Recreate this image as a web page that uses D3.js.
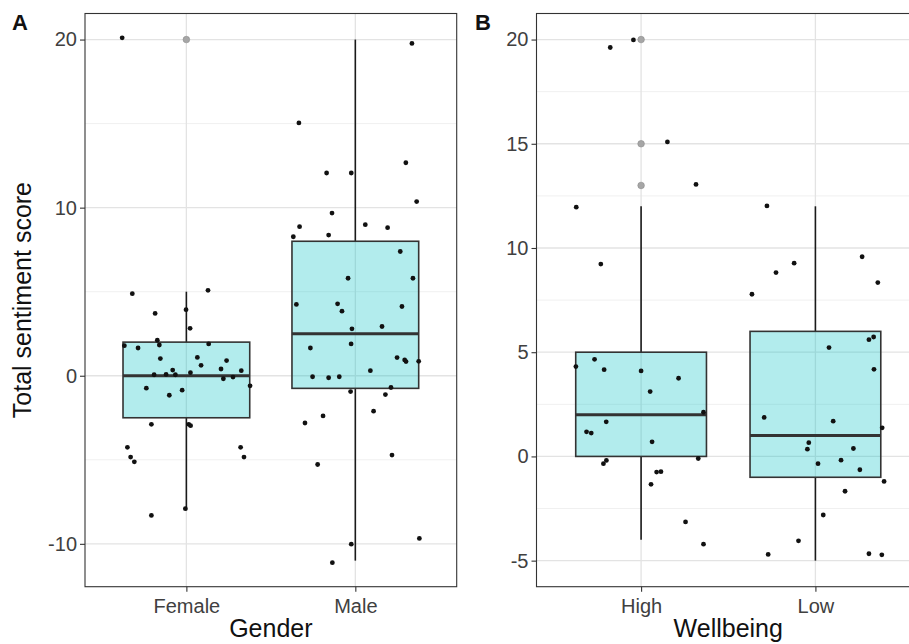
<!DOCTYPE html>
<html lang="en">
<head>
    <meta charset="UTF-8">
    <script src="https://cdn.jsdelivr.net/npm/d3@7"></script>
    <title>Sentiment boxplots</title>
    <style>
        body {
            margin: 0;
            overflow: hidden;
            background: white;
        }

        text {
            font-family: "Liberation Sans", Arial, sans-serif;
        }
    </style>
</head>
<body>
    <script>
        // panel A: gender
        const genderCats = ["Female", "Male"];
        const genderBoxes = [
            { lo: -8, q1: -2.5, med: 0, q3: 2, hi: 5 },
            { lo: -11, q1: -0.75, med: 2.5, q3: 8, hi: 20 }
        ];
        const genderOutliers = [[20], []];
        const genderTicks = [-10, 0, 10, 20];
        const genderMinor = [-5, 5, 15];

        const femaleScores = [20.1, 4.88, 3.71, 3.93, 5.08, 2.82, 1.79, 1.65, 2.11, 1.83, 1.89, 1.02, 1.09, 0.62, 0.9, 0.4, 0.3, 0.34, 0.06, 0.08, 0.06, 0.18, -0.18, -0.08, -0.74, -0.6, -0.86, -1.16, -2.89, -2.89, -2.97, -4.26, -4.26, -4.84, -4.84, -5.12, -8.31, -7.91];
        const femaleJitter = [-0.38, -0.32, -0.185, -0.002, 0.128, 0.022, -0.367, -0.286, -0.172, -0.16, 0.132, -0.154, 0.065, 0.087, 0.238, 0.205, 0.325, -0.081, -0.191, -0.12, -0.065, 0.024, 0.219, 0.276, -0.237, 0.377, -0.025, -0.101, -0.207, 0.014, 0.025, -0.349, 0.321, -0.33, 0.341, -0.308, -0.207, -0.006];

        const maleScores = [15.04, 12.06, 12.06, 12.67, 19.77, 10.36, 9.68, 8.87, 8.99, 8.81, 8.27, 8.37, 7.39, 5.8, 5.8, 4.24, 4.28, 3.84, 4.12, 2.93, 2.79, 1.65, 1.89, 1.08, 0.94, 0.84, 0.86, 0.3, -0.06, -0.12, -0.06, -0.94, -0.7, -1.12, -2.11, -2.39, -2.81, -4.72, -5.28, -10.02, -9.68, -11.12];
        const maleJitter = [-0.334, -0.024, -0.17, 0.299, 0.335, 0.363, -0.138, -0.33, 0.059, 0.191, -0.367, -0.158, 0.266, -0.043, 0.341, -0.349, -0.105, -0.079, 0.276, 0.158, -0.02, -0.266, -0.025, 0.247, 0.292, 0.3, 0.375, 0.089, -0.253, -0.158, -0.095, -0.028, 0.211, 0.178, 0.108, -0.191, -0.298, 0.217, -0.223, -0.024, 0.379, -0.136];

        // panel B: wellbeing
        const wellCats = ["High", "Low"];
        const wellBoxes = [
            { lo: -4, q1: 0, med: 2, q3: 5, hi: 12 },
            { lo: -5, q1: -1, med: 1, q3: 6, hi: 12 }
        ];
        const wellOutliers = [[20, 15, 13], []];
        const wellTicks = [-5, 0, 5, 10, 15, 20];
        const wellMinor = [-2.5, 2.5, 7.5, 12.5, 17.5];

        const highScores = [11.96, 9.23, 19.62, 19.98, 15.09, 13.05, 4.31, 4.66, 4.16, 4.1, 3.75, 3.11, 2.12, 1.66, 1.18, 1.12, 0.7, -0.1, -0.19, -0.35, -0.75, -0.73, -1.34, -3.14, -4.21];
        const highJitter = [-0.372, -0.231, -0.177, -0.044, 0.151, 0.315, -0.374, -0.267, -0.212, 0, 0.215, 0.052, 0.358, -0.2, -0.313, -0.286, 0.063, 0.328, -0.199, -0.216, 0.089, 0.114, 0.057, 0.255, 0.358];

        const lowScores = [12.02, 8.82, 9.27, 7.78, 9.58, 8.34, 5.22, 5.6, 5.73, 4.18, 1.87, 1.69, 1.37, 0.66, 0.35, 0.38, -0.35, -0.18, -0.64, -1.2, -1.67, -2.81, -4.05, -4.7, -4.67, -4.72];
        const lowJitter = [-0.278, -0.226, -0.122, -0.364, 0.268, 0.358, 0.078, 0.307, 0.334, 0.336, -0.294, 0.102, 0.383, -0.038, -0.046, 0.218, 0.015, 0.147, 0.255, 0.394, 0.17, 0.045, -0.097, -0.271, 0.307, 0.381];

        const width = 909, height = 644;

        const svg = d3.select('body')
            .append('svg')
            .attr('width', width)
            .attr('height', height);

        svg.append('rect')
            .attr('width', width)
            .attr('height', height)
            .attr('fill', 'white');

        const plotTop = 13.5, plotBottom = 586.7;

        function panel(opts) {
            const x = d3.scalePoint()
                .domain(opts.cats)
                .range([opts.left, opts.right])
                .padding(0.6);
            const step = x.step();

            const y = d3.scaleLinear()
                .domain(opts.yDomain)
                .range([plotBottom, plotTop]);

            const g = svg.append('g');

            g.append('rect')
                .attr('x', opts.left)
                .attr('y', plotTop)
                .attr('width', opts.right - opts.left)
                .attr('height', plotBottom - plotTop)
                .attr('fill', 'white');

            // grid
            g.selectAll('.minor')
                .data(opts.minor)
                .enter()
                .append('line')
                .attr('x1', opts.left)
                .attr('x2', opts.right)
                .attr('y1', d => y(d))
                .attr('y2', d => y(d))
                .attr('stroke', '#f0f0f0')
                .attr('stroke-width', 1);

            g.selectAll('.major')
                .data(opts.ticks)
                .enter()
                .append('line')
                .attr('x1', opts.left)
                .attr('x2', opts.right)
                .attr('y1', d => y(d))
                .attr('y2', d => y(d))
                .attr('stroke', '#e3e3e3')
                .attr('stroke-width', 1.3);

            g.selectAll('.vgrid')
                .data(opts.cats)
                .enter()
                .append('line')
                .attr('x1', d => x(d))
                .attr('x2', d => x(d))
                .attr('y1', plotTop)
                .attr('y2', plotBottom)
                .attr('stroke', '#e3e3e3')
                .attr('stroke-width', 1.3);

            // boxes
            opts.cats.forEach((c, i) => {
                const b = opts.boxes[i];
                const cx = x(c);
                const bw = step * 0.75;

                g.append('line')
                    .attr('x1', cx).attr('x2', cx)
                    .attr('y1', y(b.hi)).attr('y2', y(b.q3))
                    .attr('stroke', '#1a1a1a').attr('stroke-width', 1.6);
                g.append('line')
                    .attr('x1', cx).attr('x2', cx)
                    .attr('y1', y(b.q1)).attr('y2', y(b.lo))
                    .attr('stroke', '#1a1a1a').attr('stroke-width', 1.6);

                g.append('rect')
                    .attr('x', cx - bw / 2)
                    .attr('y', y(b.q3))
                    .attr('width', bw)
                    .attr('height', y(b.q1) - y(b.q3))
                    .attr('fill', '#00bfc4')
                    .attr('fill-opacity', 0.3)
                    .attr('stroke', '#333')
                    .attr('stroke-width', 1.6);

                g.append('line')
                    .attr('x1', cx - bw / 2).attr('x2', cx + bw / 2)
                    .attr('y1', y(b.med)).attr('y2', y(b.med))
                    .attr('stroke', '#333').attr('stroke-width', 3);

                g.selectAll('.out' + i)
                    .data(opts.outliers[i])
                    .enter()
                    .append('circle')
                    .attr('cx', cx)
                    .attr('cy', d => y(d))
                    .attr('r', 3.3)
                    .attr('fill', '#a6a6a6')
                    .attr('stroke', '#8c8c8c')
                    .attr('stroke-width', 0.6);
            });

            // jittered points
            opts.points.forEach(([scores, jit], i) => {
                const cx = x(opts.cats[i]);
                g.selectAll('.pt' + i)
                    .data(scores)
                    .enter()
                    .append('circle')
                    .attr('cx', (d, j) => cx + jit[j] * step)
                    .attr('cy', d => y(d))
                    .attr('r', 2.4)
                    .attr('fill', '#111');
            });

            // border
            g.append('rect')
                .attr('x', opts.left)
                .attr('y', plotTop)
                .attr('width', opts.right - opts.left)
                .attr('height', plotBottom - plotTop)
                .attr('fill', 'none')
                .attr('stroke', '#333')
                .attr('stroke-width', 1.1);

            // axes (plain hyphen for negatives, like the original)
            const yAxis = g.append('g')
                .attr('transform', `translate(${opts.left},0)`)
                .call(d3.axisLeft(y)
                    .tickValues(opts.ticks)
                    .tickFormat(d => String(d))
                    .tickSize(5)
                    .tickPadding(3));
            const xAxis = g.append('g')
                .attr('transform', `translate(0,${plotBottom})`)
                .call(d3.axisBottom(x).tickSize(5).tickPadding(3));

            [yAxis, xAxis].forEach(a => {
                a.select('.domain').remove();
                a.selectAll('.tick line').attr('stroke', '#333').attr('stroke-width', 1.1);
                a.selectAll('.tick text')
                    .attr('fill', '#404040')
                    .style('font-size', '20px')
                    .style('font-family', '"Liberation Sans", Arial, sans-serif');
            });
            xAxis.selectAll('.tick text').attr('dy', '0.9em');

            svg.append('text')
                .attr('x', (opts.left + opts.right) / 2)
                .attr('y', 637)
                .attr('text-anchor', 'middle')
                .style('font-size', '25px')
                .attr('fill', '#111')
                .text(opts.xTitle);

            svg.append('text')
                .attr('x', opts.tagX)
                .attr('y', 30)
                .style('font-size', '22px')
                .style('font-weight', 'bold')
                .attr('fill', '#111')
                .text(opts.tag);
        }

        panel({
            cats: genderCats,
            boxes: genderBoxes,
            outliers: genderOutliers,
            ticks: genderTicks,
            minor: genderMinor,
            points: [[femaleScores, femaleJitter], [maleScores, maleJitter]],
            yDomain: [-12.55, 21.55],
            left: 85,
            right: 456.7,
            xTitle: "Gender",
            tag: "A",
            tagX: 12
        });

        panel({
            cats: wellCats,
            boxes: wellBoxes,
            outliers: wellOutliers,
            ticks: wellTicks,
            minor: wellMinor,
            points: [[highScores, highJitter], [lowScores, lowJitter]],
            yDomain: [-6.25, 21.25],
            left: 536.5,
            right: 920,
            xTitle: "Wellbeing",
            tag: "B",
            tagX: 475
        });

        svg.append('text')
            .attr('transform', `translate(31, ${(plotTop + plotBottom) / 2}) rotate(-90)`)
            .attr('text-anchor', 'middle')
            .style('font-size', '25px')
            .attr('fill', '#111')
            .text("Total sentiment score");
    </script>
</body>
</html>
